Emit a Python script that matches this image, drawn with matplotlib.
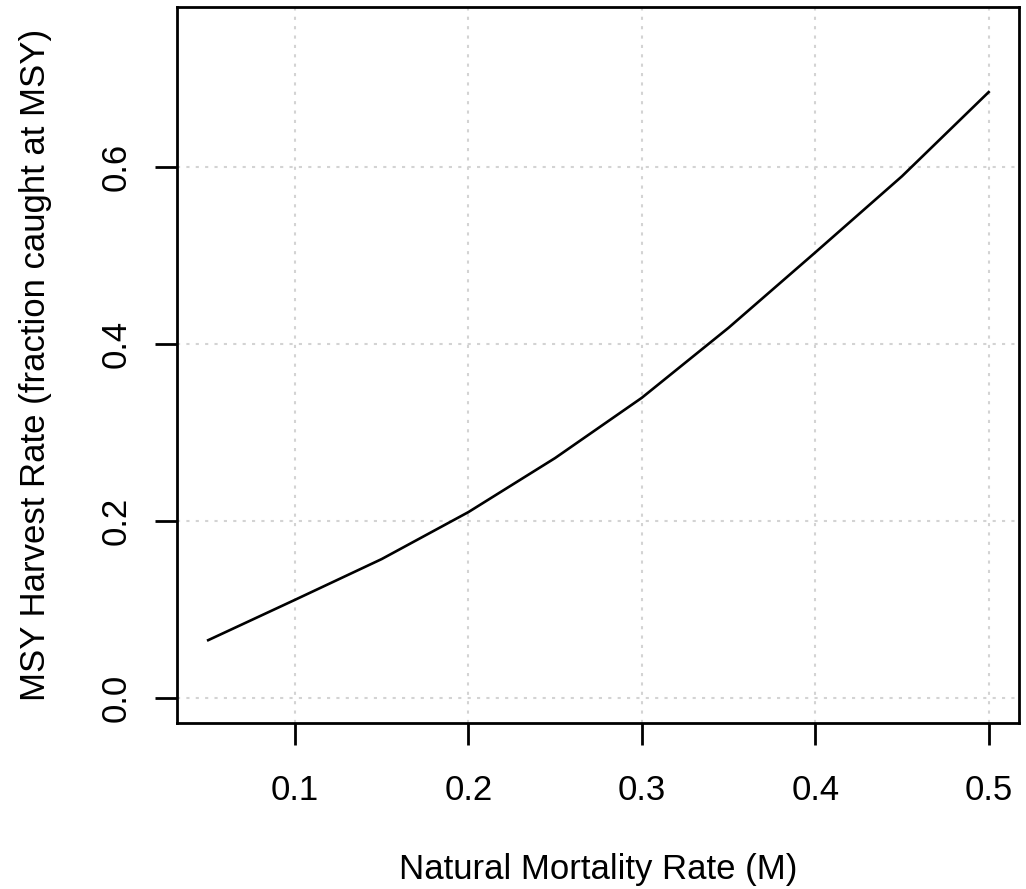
import numpy as np
import matplotlib.pyplot as plt

plt.rcParams['font.family'] = ['Liberation Sans', 'DejaVu Sans']

# natural mortality rate M and MSY harvest rate
m_rate = [0.05, 0.10, 0.15, 0.20, 0.25, 0.30, 0.35, 0.40, 0.45, 0.50]
msy_rate = [0.0655, 0.111, 0.157, 0.210, 0.271, 0.339, 0.418, 0.503, 0.589, 0.684]

x_ticks = [0.1, 0.2, 0.3, 0.4, 0.5]
y_ticks = [0.0, 0.2, 0.4, 0.6]

fig = plt.figure(figsize=(10.26, 8.89), dpi=100)
ax = fig.add_axes([0.1725, 0.1867, 0.8207, 0.8054])

ax.plot(m_rate, msy_rate, color='black', linewidth=1.9, zorder=3)

ax.set_xlim(0.032, 0.5175)
ax.set_ylim(-0.028, 0.78)
ax.set_xticks(x_ticks)
ax.set_yticks(y_ticks)
ax.set_xticklabels(['0.1', '0.2', '0.3', '0.4', '0.5'])
ax.set_yticklabels(['0.0', '0.2', '0.4', '0.6'], rotation=90, va='center')

ax.grid(True, color='#d3d3d3', linestyle=(0, (1.5, 3)), linewidth=1.5, zorder=0)

for s in ax.spines.values():
    s.set_linewidth(2.0)
ax.tick_params(axis='both', direction='out', length=16, width=2.0, labelsize=25)
ax.tick_params(axis='x', pad=21)
ax.tick_params(axis='y', pad=16)

ax.set_xlabel('Natural Mortality Rate (M)', fontsize=25, labelpad=33)
ax.set_ylabel('MSY Harvest Rate (fraction caught at MSY)', fontsize=25, labelpad=34)

fig.savefig('out.png', dpi=100)
